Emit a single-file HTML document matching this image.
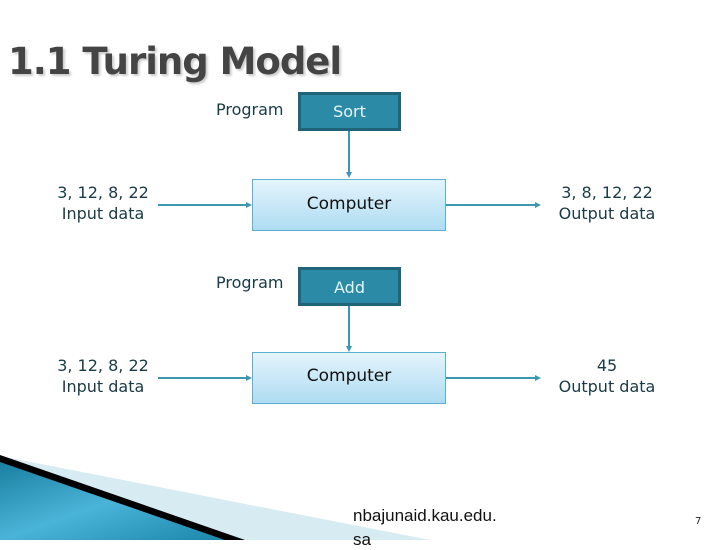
<!DOCTYPE html>
<html><head><style>
body{margin:0;width:720px;height:540px;overflow:hidden;background:#fff;position:relative;font-family:"DejaVu Sans","Liberation Sans",sans-serif;}
.t{position:absolute;color:#1a3a44;font-size:16px;line-height:21px;text-align:center;white-space:nowrap}
.prog{position:absolute;background:#2b8aa6;border:3px solid #1f6478;color:#e6f4f8;font-size:16px;text-align:center;box-sizing:border-box}
.comp{position:absolute;background:linear-gradient(#e4f4fc,#aedcf2);border:1px solid #5ab0d0;box-sizing:border-box;font-size:17px;color:#111;text-align:center}
</style></head><body>
<div style="position:absolute;left:8px;top:40px;font-size:37px;font-weight:bold;color:#444;text-shadow:2px 2px 2px #ccc;letter-spacing:-1px">1.1 Turing Model</div>

<div class="t" style="left:216px;top:99px">Program</div>
<div class="prog" style="left:298px;top:92px;width:103px;height:39px;line-height:33px">Sort</div>
<div class="comp" style="left:252px;top:179px;width:194px;height:52px;line-height:48px">Computer</div>
<div class="t" style="left:43px;top:182px;width:120px">3, 12, 8, 22<br>Input data</div>
<div class="t" style="left:547px;top:182px;width:120px">3, 8, 12, 22<br>Output data</div>

<div class="t" style="left:216px;top:272px">Program</div>
<div class="prog" style="left:298px;top:267px;width:103px;height:39px;line-height:35px">Add</div>
<div class="comp" style="left:252px;top:352px;width:194px;height:52px;line-height:46px">Computer</div>
<div class="t" style="left:43px;top:355px;width:120px">3, 12, 8, 22<br>Input data</div>
<div class="t" style="left:547px;top:355px;width:120px">45<br>Output data</div>

<svg width="720" height="540" style="position:absolute;left:0;top:0">
<g stroke="#3a98b0" stroke-width="2" fill="#3a98b0">
<line x1="349" y1="131" x2="349" y2="174"/><polygon points="346,172 352,172 349,178" stroke="none"/>
<line x1="158" y1="205" x2="248" y2="205"/><polygon points="246,202 246,208 252,205" stroke="none"/>
<line x1="446" y1="205" x2="536" y2="205"/><polygon points="535,202 535,208 541,205" stroke="none"/>
<line x1="349" y1="306" x2="349" y2="347"/><polygon points="346,346 352,346 349,352" stroke="none"/>
<line x1="158" y1="378" x2="248" y2="378"/><polygon points="246,375 246,381 252,378" stroke="none"/>
<line x1="446" y1="378" x2="536" y2="378"/><polygon points="535,375 535,381 541,378" stroke="none"/>
</g>
<defs><linearGradient id="g" x1="0" y1="0" x2="1" y2="1"><stop offset="0" stop-color="#1a7fa0"/><stop offset="0.5" stop-color="#4ab4d8"/><stop offset="1" stop-color="#1a86aa"/></linearGradient></defs>
<polygon points="0,456 430,540 0,540" fill="#d6ebf2"/>
<polygon points="0,455 245,540 0,540" fill="#000"/>
<polygon points="0,462 225,540 0,540" fill="url(#g)"/>
</svg>
<div style="position:absolute;left:353px;top:506px;font-size:17px;color:#111;font-family:'Liberation Sans Narrow','Liberation Sans',sans-serif">nbajunaid.kau.edu.</div>
<div style="position:absolute;left:353px;top:530px;font-size:17px;color:#111;font-family:'Liberation Sans',sans-serif">sa</div>
<div style="position:absolute;left:695px;top:516px;font-size:10px;color:#222">7</div>
</body></html>
